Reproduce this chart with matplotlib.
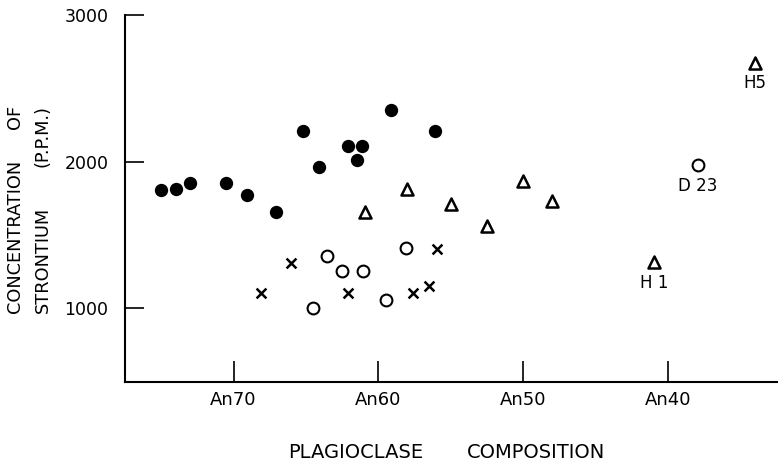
import matplotlib

matplotlib.use("Agg")
import matplotlib.pyplot as plt

# Plagioclase composition (An %) and Sr concentration (p.p.m.)
filled_an = [75.0, 74.0, 73.0, 70.55, 69.1, 67.1, 65.2, 64.1, 62.1, 61.1, 61.5, 59.1, 56.1]
filled_sr = [1804, 1816, 1857, 1855, 1770, 1655, 2211, 1961, 2110, 2110, 2011, 2355, 2211]

open_an = [63.55, 62.54, 61.06, 58.05, 64.54, 59.5, 37.9]
open_sr = [1356, 1257, 1252, 1409, 1000, 1057, 1977]

tri_an = [58.0, 60.9, 55.0, 52.5, 50.0, 48.0, 40.95, 33.95]
tri_sr = [1811, 1655, 1710, 1559, 1866, 1731, 1314, 2676]

cross_an = [66.04, 68.07, 62.1, 55.97, 57.6, 56.5]
cross_sr = [1310, 1108, 1108, 1406, 1106, 1152]

x_ticks = [70, 60, 50, 40]
x_tick_labels = ["An70", "An60", "An50", "An40"]
y_ticks = [1000, 2000, 3000]

# Labelled samples: (text, An, Sr)
labels = [("D 23", 37.9, 1977), ("H 1", 40.95, 1314), ("H5", 33.95, 2676)]

plt.rcParams["font.family"] = ["DejaVu Sans"]

fig = plt.figure(figsize=(7.78, 4.61), dpi=100)
ax = fig.add_axes([125 / 778, 79.3 / 461, 1 - 125 / 778, 366.7 / 461])

ax.scatter(filled_an, filled_sr, s=92, c="black", marker="o", linewidths=0)
ax.scatter(open_an, open_sr, s=72, facecolors="white", edgecolors="black",
           marker="o", linewidths=1.5)
ax.scatter(tri_an, tri_sr, s=75, facecolors="white", edgecolors="black",
           marker="^", linewidths=1.8)
ax.scatter(cross_an, cross_sr, s=50, c="black", marker="x", linewidths=1.8)

# Sample names sit just below their points
for text, an, sr in labels:
    ax.annotate(text, (an, sr), xytext=(0, -15), textcoords="offset points",
                ha="center", va="center", fontsize=12)

ax.set_xlim(77.5, 32.38)
ax.set_ylim(500, 3000)

for side in ["top", "right"]:
    ax.spines[side].set_visible(False)
for side in ["left", "bottom"]:
    ax.spines[side].set_linewidth(1.5)

ax.set_xticks(x_ticks)
ax.set_xticklabels(x_tick_labels)
ax.set_yticks(y_ticks)
ax.tick_params(axis="x", direction="in", length=15, width=1.2, pad=7, labelsize=13)
ax.tick_params(axis="y", direction="in", length=14, width=1.2, pad=12, labelsize=12.5)

# Axis titles, both lines of the y title spread to the same length
fig.text(288 / 778, 1 - 452 / 461, "PLAGIOCLASE", ha="left", va="center", fontsize=14)
fig.text(467 / 778, 1 - 452 / 461, "COMPOSITION", ha="left", va="center", fontsize=14)

y_bot = 1 - 313 / 461
y_top = 1 - 105 / 461
for x, lo, hi in [(15, "CONCENTRATION", "OF"), (42.5, "STRONTIUM", "(P.P.M.)")]:
    fig.text(x / 778, y_bot, lo, rotation=90, ha="center", va="bottom", fontsize=12.8)
    fig.text(x / 778, y_top, hi, rotation=90, ha="center", va="top", fontsize=12.8)

fig.savefig("out.png", dpi=100, facecolor="white")
